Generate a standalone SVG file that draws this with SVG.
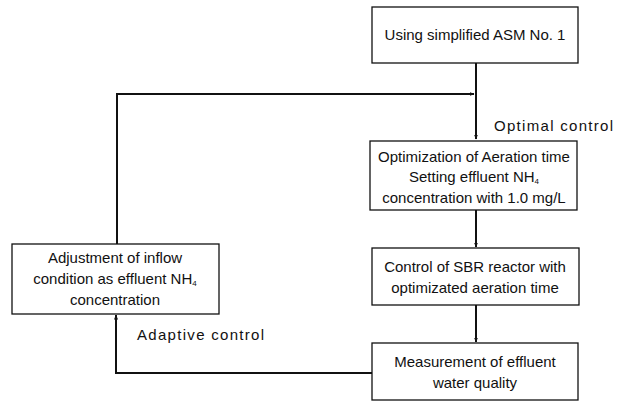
<svg xmlns="http://www.w3.org/2000/svg" width="625" height="403" viewBox="0 0 625 403">
<style>
.box{fill:#fff;stroke:#111;stroke-width:1.3}
.t{font-family:"Liberation Sans",Arial,sans-serif;font-size:15px;fill:#111;text-anchor:middle}
.lbl{font-family:"Liberation Sans",Arial,sans-serif;font-size:15px;fill:#111;letter-spacing:1.3px}
.sub{font-size:8px}
.c{fill:none;stroke:#111;stroke-width:2}
</style>
<defs>
<marker id="ah" viewBox="0 0 10 10" refX="9" refY="5" markerWidth="5" markerHeight="5" orient="auto" markerUnits="userSpaceOnUse">
<path d="M0,1 L10,5 L0,9 z" fill="#111"/>
</marker>
</defs>
<g id="connectors">
<path class="c" d="M476,63 V139" marker-end="url(#ah)"/>
<path class="c" d="M117,244 V94 H474" marker-end="url(#ah)"/>
<path class="c" d="M476,210 V247" marker-end="url(#ah)"/>
<path class="c" d="M476,305 V342" marker-end="url(#ah)"/>
<path class="c" d="M372,373 H116 V315" marker-end="url(#ah)"/>
</g>
<g id="n1"><rect class="box" x="372" y="7" width="206" height="56"/>
<text class="t" x="475" y="40">Using simplified ASM No. 1</text></g>
<g id="n2"><rect class="box" x="370" y="141" width="207" height="69"/>
<text class="t" x="474" y="162">Optimization of Aeration time</text>
<text class="t" x="474" y="182">Setting effluent NH<tspan class="sub" dy="2">4</tspan></text>
<text class="t" x="474" y="203">concentration with 1.0 mg/L</text></g>
<g id="n3"><rect class="box" x="372" y="248" width="207" height="57"/>
<text class="t" x="475" y="272">Control of SBR reactor with</text>
<text class="t" x="475" y="293">optimizated aeration time</text></g>
<g id="n4"><rect class="box" x="372" y="343" width="206" height="57"/>
<text class="t" x="475" y="367">Measurement of effluent</text>
<text class="t" x="475" y="388">water quality</text></g>
<g id="n5"><rect class="box" x="12" y="244" width="207" height="70"/>
<text class="t" x="115" y="263">Adjustment of inflow</text>
<text class="t" x="115" y="284">condition as effluent NH<tspan class="sub" dy="2">4</tspan></text>
<text class="t" x="115" y="305">concentration</text></g>
<text class="lbl" x="494" y="131">Optimal control</text>
<text class="lbl" x="137" y="340">Adaptive control</text>
</svg>
